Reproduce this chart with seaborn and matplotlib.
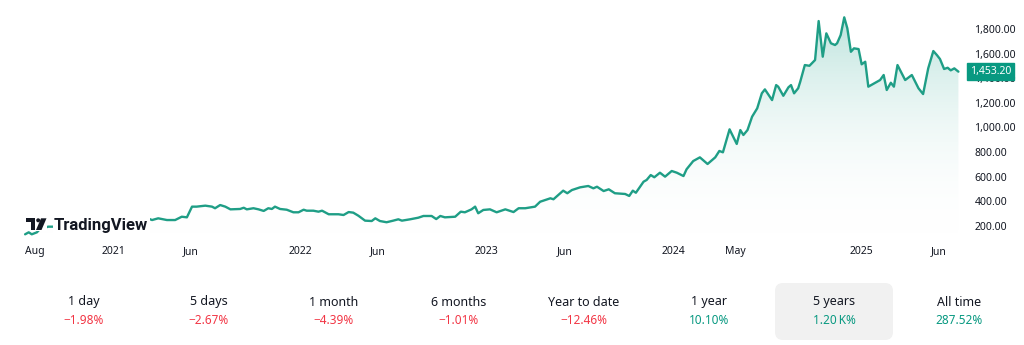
import numpy as np
import pandas as pd
import matplotlib
matplotlib.use("Agg")
import matplotlib.pyplot as plt
import matplotlib.dates as mdates
from matplotlib.patches import FancyBboxPatch, Polygon, Rectangle, Circle
from matplotlib.colors import LinearSegmentedColormap
import seaborn as sns

# ---- price history (days counted from 2021-01-01, closing price) ----
days_from_2021 = [
    -172, -165, -159, -149, -143, -135, -127, -117, -104, -84, -64, -45, -25, -6,
    14, 29, 46, 59, 76, 88, 105, 121, 134, 144, 154, 163, 180, 193, 199, 209, 219,
    229, 248, 255, 261, 274, 284, 294, 303, 310, 316, 326, 339, 352, 362, 372, 378,
    391, 401, 408, 421, 430, 440, 450, 460, 469, 479, 492, 505, 512, 521, 534, 547,
    557, 564, 580, 596, 606, 622, 631, 639, 648, 668, 679, 687, 700, 707, 713, 723,
    736, 749, 766, 782, 792, 805, 824, 834, 854, 860, 879, 887, 896, 912, 928, 938,
    945, 958, 968, 980, 1000, 1008, 1015, 1021, 1036, 1042, 1050, 1057, 1068, 1078,
    1091, 1101, 1114, 1120, 1133, 1146, 1161, 1176, 1184, 1191, 1204, 1218, 1225,
    1231, 1239, 1248, 1258, 1267, 1273, 1287, 1295, 1299, 1309, 1319, 1324, 1330,
    1338, 1342, 1351, 1360, 1371, 1378, 1386, 1393, 1402, 1410, 1414, 1421, 1428,
    1434, 1441, 1447, 1456, 1462, 1469, 1475, 1498, 1505, 1511, 1519, 1525, 1532,
    1547, 1560, 1573, 1582, 1592, 1602, 1609, 1615, 1623, 1630, 1636, 1643, 1651,
]
prices = [
    130, 146, 130, 146, 173, 181, 192, 192, 202, 214, 218, 230, 238, 250,
    263, 275, 287, 273, 246, 260, 246, 246, 273, 268, 355, 355, 363, 355, 342, 368, 355,
    333, 336, 346, 333, 342, 333, 320, 342, 336, 355, 336, 330, 309, 309, 330, 322,
    322, 314, 322, 293, 293, 293, 287, 311, 306, 281, 241, 238, 260, 238, 228, 241,
    252, 241, 252, 265, 279, 279, 254, 279, 268, 273, 314, 309, 333, 355, 301, 328,
    333, 309, 333, 311, 342, 342, 355, 395, 423, 415, 485, 464, 490, 512, 523, 504,
    517, 482, 496, 464, 458, 442, 485, 468, 558, 572, 612, 594, 631, 599,
    645, 631, 604, 659, 726, 756, 702, 756, 808, 797, 984, 865, 978,
    938, 978, 1087, 1155, 1277, 1309, 1222, 1344, 1331, 1257, 1326, 1344, 1277,
    1318, 1371, 1507, 1501, 1548, 1865, 1575, 1765, 1684, 1670, 1684, 1751, 1895,
    1806, 1615, 1643, 1637, 1513, 1534, 1331, 1385, 1426, 1304, 1363, 1331, 1507,
    1385, 1426, 1318, 1271, 1480, 1621, 1588, 1556, 1475, 1485, 1464, 1480, 1453.20,
]

tick_dates = ["2020-08-01", "2021-01-01", "2021-06-01", "2022-01-01", "2022-06-01",
              "2023-01-01", "2023-06-01", "2024-01-01", "2024-05-01", "2025-01-01",
              "2025-06-01"]
tick_labels = ["Aug", "2021", "Jun", "2022", "Jun", "2023", "Jun", "2024", "May",
               "2025", "Jun"]
price_ticks = [200, 400, 600, 800, 1000, 1200, 1400, 1600, 1800]

periods = ["1 day", "5 days", "1 month", "6 months", "Year to date", "1 year",
           "5 years", "All time"]
changes = ["\u22121.98%", "\u22122.67%", "\u22124.39%", "\u22121.01%", "\u221212.46%",
           "10.10%", "1.20\u2009K%", "287.52%"]
selected_period = "5 years"

# ---- styling ----
UP = "#089981"
LINE = "#1f9e86"
DOWN = "#f23645"
INK = "#131722"

sns.set_theme(style="white")
plt.rcParams["font.family"] = ["Noto Sans", "DejaVu Sans"]

W, H, DPI = 1024, 345, 100
fig = plt.figure(figsize=(W / DPI, H / DPI), dpi=DPI, facecolor="white")

left_px, right_px, bottom_px, top_px = 20, 962, 237, 2
ax = fig.add_axes([left_px / W, 1 - bottom_px / H,
                   (right_px - left_px) / W, (bottom_px - top_px) / H])

df = pd.DataFrame({
    "date": pd.Timestamp("2021-01-01") + pd.to_timedelta(days_from_2021, unit="D"),
    "price": prices,
})

x0 = pd.Timestamp("2021-01-01") + pd.Timedelta(days=-182)
x1 = pd.Timestamp("2021-01-01") + pd.Timedelta(days=1658)
y0, y1 = 108, 2020

# gradient area under the line
cmap = LinearSegmentedColormap.from_list(
    "area", [(1, 1, 1, 0), (8 / 255, 153 / 255, 129 / 255, 0.30)])
grad = np.linspace(0, 1, 256).reshape(-1, 1)
img = ax.imshow(grad, cmap=cmap, aspect="auto", origin="lower",
                extent=[mdates.date2num(x0), mdates.date2num(x1), y0, y1],
                zorder=1, interpolation="bicubic")
fill = ax.fill_between(df["date"], df["price"], y0, color="none", lw=0)
clip = fill.get_paths()[0]
img.set_clip_path(clip, transform=ax.transData)

sns.lineplot(data=df, x="date", y="price", ax=ax, color=LINE, lw=1.7, zorder=3)

ax.set_xlim(x0, x1)
ax.set_ylim(y0, y1)
ax.set_xlabel("")
ax.set_ylabel("")
for s in ax.spines.values():
    s.set_visible(False)
ax.grid(False)

ax.set_xticks(pd.to_datetime(tick_dates))
ax.set_xticklabels(tick_labels)
for lab in ax.get_xticklabels():
    lab.set_fontweight("bold" if lab.get_text().isdigit() else "normal")
    lab.set_color(INK)
ax.tick_params(axis="x", length=0, pad=6.5, labelsize=7.5)

ax.yaxis.tick_right()
ax.set_yticks(price_ticks)
ax.set_yticklabels([f"{v:,.2f}" for v in price_ticks])
ax.tick_params(axis="y", length=0, pad=9, labelsize=7.5, labelcolor=INK)

# last price tag
last = prices[-1]
ax.annotate(f"{last:,.2f}", xy=(1, last), xycoords=("axes fraction", "data"),
            xytext=(20.5, 0), textcoords="offset points", ha="center", va="center",
            fontsize=7.5, fontweight="bold", color="white", zorder=10,
            annotation_clip=False,
            bbox=dict(boxstyle="square,pad=0.3", fc=UP, ec=UP))

# overlay in pixel space for the logo and performance row
ov = fig.add_axes([0, 0, 1, 1], zorder=5)
ov.set_xlim(0, W)
ov.set_ylim(H, 0)
ov.axis("off")
ov.patch.set_visible(False)

# logo
ov.add_patch(Rectangle((53, 213), 97, 20, fc="white", ec="none"))
ov.add_patch(Rectangle((25, 216), 22, 14.5, fc="white", ec="none"))
ov.add_patch(Rectangle((25.7, 218.3), 9.3, 4, fc=INK, ec="none"))
ov.add_patch(Rectangle((31, 218.3), 4, 11.7, fc=INK, ec="none"))
ov.add_patch(Circle((38.2, 220.3), 2.0, fc=INK, ec="none"))
ov.add_patch(Polygon([(41, 218.3), (46.5, 218.3), (41.5, 230), (36, 230)],
                     closed=True, fc=INK, ec="none"))
ov.text(54, 225.3, "TradingView", fontsize=12, fontweight="bold", color=INK,
        family=["Roboto", "DejaVu Sans"], ha="left", va="center")

# performance row
col_w = 125
col0 = 84
for i, (p, c) in enumerate(zip(periods, changes)):
    cx = col0 + i * col_w
    if p == selected_period:
        ov.add_patch(FancyBboxPatch((775, 283), 118, 57,
                                    boxstyle="round,pad=0,rounding_size=8",
                                    fc="#f1f1f1", ec="none"))
    ov.text(cx, 302, p, fontsize=9, color=INK, ha="center", va="center")
    ov.text(cx, 321, c, fontsize=8.5, ha="center", va="center",
            color=DOWN if c.startswith("\u2212") else UP)

fig.savefig("out.png", dpi=DPI, facecolor="white")
